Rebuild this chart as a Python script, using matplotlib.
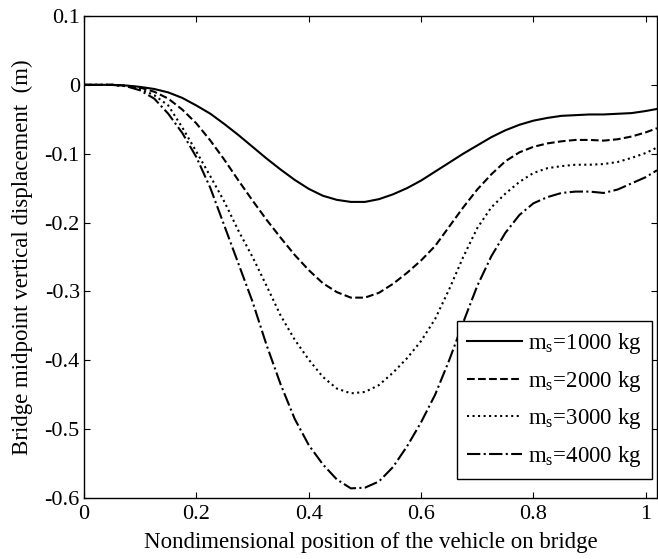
import numpy as np
import matplotlib
matplotlib.use('Agg')
import matplotlib.pyplot as plt

plt.rcParams['font.family'] = ['Liberation Serif', 'DejaVu Serif']
plt.rcParams['mathtext.fontset'] = 'custom'
plt.rcParams['mathtext.rm'] = 'Liberation Serif'
plt.rcParams['mathtext.it'] = 'Liberation Serif:italic'

# Nondimensional position and midpoint displacement
pos = [0, 0.025, 0.05, 0.075, 0.1, 0.125, 0.15, 0.175, 0.2, 0.225, 0.25, 0.275,
       0.3, 0.325, 0.35, 0.375, 0.4, 0.425, 0.45, 0.475, 0.5, 0.525, 0.55, 0.575,
       0.6, 0.625, 0.65, 0.675, 0.7, 0.725, 0.75, 0.775, 0.8, 0.825, 0.85, 0.875,
       0.9, 0.925, 0.95, 0.975, 1.0, 1.02]

d1000 = [0, 0, 0, -0.001, -0.003, -0.006, -0.011, -0.019, -0.030, -0.042, -0.057, -0.073,
         -0.090, -0.107, -0.123, -0.138, -0.151, -0.161, -0.167, -0.170, -0.170, -0.166, -0.159, -0.150,
         -0.139, -0.126, -0.113, -0.100, -0.088, -0.076, -0.066, -0.058, -0.052, -0.048, -0.045, -0.044,
         -0.043, -0.043, -0.042, -0.041, -0.038, -0.035]
d2000 = [0, 0, 0, -0.001, -0.004, -0.010, -0.020, -0.036, -0.056, -0.081, -0.109, -0.139,
         -0.168, -0.196, -0.222, -0.247, -0.269, -0.288, -0.301, -0.309, -0.309, -0.302, -0.289, -0.273,
         -0.255, -0.234, -0.206, -0.178, -0.152, -0.130, -0.111, -0.098, -0.090, -0.085, -0.082, -0.080,
         -0.080, -0.081, -0.079, -0.075, -0.069, -0.063]
d3000 = [0, 0, 0, -0.002, -0.006, -0.015, -0.030, -0.062, -0.097, -0.133, -0.170, -0.212,
         -0.250, -0.292, -0.335, -0.370, -0.399, -0.424, -0.441, -0.448, -0.446, -0.436, -0.418, -0.397,
         -0.372, -0.340, -0.297, -0.250, -0.208, -0.178, -0.158, -0.141, -0.128, -0.121, -0.118, -0.116,
         -0.116, -0.115, -0.112, -0.106, -0.099, -0.091]
d4000 = [0, 0, 0, -0.002, -0.008, -0.020, -0.042, -0.070, -0.105, -0.150, -0.205, -0.260,
         -0.315, -0.378, -0.435, -0.485, -0.523, -0.551, -0.573, -0.586, -0.585, -0.576, -0.555, -0.525,
         -0.490, -0.450, -0.400, -0.345, -0.292, -0.249, -0.215, -0.189, -0.172, -0.163, -0.157, -0.155,
         -0.155, -0.157, -0.152, -0.143, -0.134, -0.124]

masses = [1000, 2000, 3000, 4000]

fig = plt.figure(figsize=(6.58, 5.59), dpi=100)
ax = fig.add_axes([0.1277, 0.1091, 0.8708, 0.8623])

styles = ['-', '--', ':', '-.']
for d, m, ls in zip([d1000, d2000, d3000, d4000], masses, styles):
    ax.plot(pos, d, color='black', linestyle=ls, linewidth=1.5,
            label='m$_\\mathrm{s}$=%d kg' % m)

ax.set_xlim(0, 1.02)
ax.set_ylim(-0.6, 0.1)
ax.set_xticks([0, 0.2, 0.4, 0.6, 0.8, 1])
ax.set_xticklabels(['0', '0.2', '0.4', '0.6', '0.8', '1'])
ax.set_yticks([-0.6, -0.5, -0.4, -0.3, -0.2, -0.1, 0, 0.1])
ax.set_yticklabels(['-0.6', '-0.5', '-0.4', '-0.3', '-0.2', '-0.1', '0', '0.1'])
ax.tick_params(axis='both', direction='in', length=4, width=0.8, top=True, right=True,
               labelsize=16)
ax.tick_params(axis='x', pad=5)
ax.tick_params(axis='y', pad=3)
for s in ax.spines.values():
    s.set_linewidth(1.0)

ax.set_xlabel('Nondimensional position of the vehicle on bridge', fontsize=16.5, labelpad=6)
ax.set_ylabel('Bridge midpoint vertical displacement  (m)', fontsize=16.5, labelpad=8)

leg = ax.legend(loc='lower right', bbox_to_anchor=(0.991, 0.039), borderaxespad=0,
                fontsize=16.5, fancybox=False, framealpha=1, edgecolor='black',
                handlelength=2.4, handletextpad=0.25, labelspacing=0.55, borderpad=0.45)
leg.get_frame().set_linewidth(1.0)

plt.savefig('out.png', dpi=100)
